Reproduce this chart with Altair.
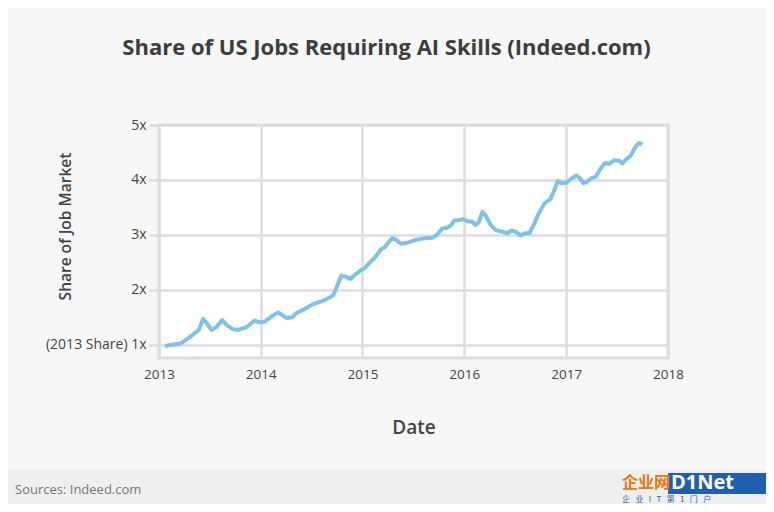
import altair as alt
import pandas as pd

dates = [
    "2013-01-22", "2013-03-22", "2013-04-21", "2013-05-24", "2013-06-08", "2013-06-22",
    "2013-07-08", "2013-07-25", "2013-08-16", "2013-09-01", "2013-09-21", "2013-10-11",
    "2013-11-10", "2013-12-10", "2013-12-28", "2014-01-15", "2014-02-08", "2014-03-04",
    "2014-04-02", "2014-04-24", "2014-05-09", "2014-06-07", "2014-07-07", "2014-08-12",
    "2014-09-05", "2014-09-19", "2014-10-17", "2014-11-01", "2014-11-18", "2014-12-09",
    "2014-12-27", "2015-01-08", "2015-01-26", "2015-02-13", "2015-03-09", "2015-03-21",
    "2015-04-02", "2015-04-17", "2015-05-02", "2015-05-19", "2015-06-12", "2015-07-12",
    "2015-08-11", "2015-09-10", "2015-09-24", "2015-10-15", "2015-10-28", "2015-11-14",
    "2015-11-26", "2015-12-14", "2015-12-28", "2016-01-12", "2016-01-30", "2016-02-11",
    "2016-02-23", "2016-03-06", "2016-03-18", "2016-04-05", "2016-04-22", "2016-05-16",
    "2016-06-03", "2016-06-19", "2016-07-03", "2016-07-21", "2016-08-05", "2016-08-22",
    "2016-09-06", "2016-09-24", "2016-10-16", "2016-11-05", "2016-11-17", "2016-12-02",
    "2016-12-14", "2017-01-02", "2017-01-21", "2017-02-07", "2017-02-19", "2017-03-04",
    "2017-03-18", "2017-03-30", "2017-04-17", "2017-05-05", "2017-05-20", "2017-06-04",
    "2017-06-22", "2017-07-10", "2017-07-21", "2017-08-05", "2017-08-20", "2017-09-07",
    "2017-09-19", "2017-10-01",
]
share = [
    0.98, 1.03, 1.14, 1.27, 1.47, 1.39,
    1.27, 1.32, 1.45, 1.36, 1.29, 1.27,
    1.32, 1.44, 1.41, 1.42, 1.51, 1.59,
    1.49, 1.50, 1.58, 1.65, 1.74, 1.80,
    1.86, 1.91, 2.26, 2.24, 2.20, 2.29,
    2.36, 2.39, 2.49, 2.58, 2.74, 2.77,
    2.85, 2.94, 2.91, 2.84, 2.86, 2.91,
    2.94, 2.95, 3.00, 3.12, 3.12, 3.17,
    3.26, 3.27, 3.29, 3.25, 3.24, 3.18,
    3.24, 3.42, 3.35, 3.18, 3.09, 3.06,
    3.03, 3.08, 3.06, 2.99, 3.03, 3.03,
    3.18, 3.39, 3.58, 3.65, 3.79, 3.98,
    3.94, 3.95, 4.03, 4.08, 4.03, 3.94,
    3.97, 4.03, 4.06, 4.21, 4.31, 4.29,
    4.36, 4.35, 4.30, 4.38, 4.44, 4.61,
    4.67, 4.65,
]
y_ticks = [1, 2, 3, 4, 5]
x_ticks = ["2013-01-01", "2014-01-01", "2015-01-01", "2016-01-01", "2017-01-01", "2018-01-01"]

title_text = "Share of US Jobs Requiring AI Skills (Indeed.com)"
source_text = ["Sources: Indeed.com"]
NB = "\u00a0\u00a0\u00a0"
watermark_small = [NB.join(["企", "业", "I", "T", "第", "1", "门", "户"])]

FONT = "Open Sans"
W, H = 509, 233
PL, PT = 151, 117
TOTAL_W, TOTAL_H = 758, 496

df = pd.DataFrame({"date": dates, "share": share})

line = alt.Chart(df).mark_line(color="#80c1ea", strokeWidth=4, strokeJoin="round").encode(
    x=alt.X(
        "date:T",
        scale=alt.Scale(domain=["2013-01-01", "2018-01-01"]),
        axis=alt.Axis(
            values=x_ticks, format="%Y", title="Date", ticks=False, domain=False,
            labelFlush=False, labelPadding=9, labelFontSize=13.5, labelColor="#444",
            labelFont=FONT,
            titleFontSize=19, titleFontWeight=600, titleColor="#444", titleFont=FONT,
            titleY=69, titleBaseline="middle",
            grid=True, gridColor="#dddddd", gridWidth=2.5,
        ),
    ),
    y=alt.Y(
        "share:Q",
        scale=alt.Scale(domain=[0.76, 5], nice=False, zero=False),
        axis=alt.Axis(
            values=y_ticks,
            labelExpr="datum.value == 1 ? '(2013 Share) 1x' : datum.value + 'x'",
            title="Share of Job Market", domain=False,
            tickSize=10, tickColor="#dddddd", tickWidth=2.5, labelPadding=3,
            labelFontSize=14, labelColor="#444", labelFont=FONT,
            titleFontSize=15.5, titleFontWeight=600, titleColor="#444", titleFont=FONT,
            titleX=-94, titleY=101, titleBaseline="middle", titleAngle=270,
            grid=True, gridColor="#dddddd", gridWidth=2.5,
        ),
    ),
)

footer = alt.Chart(pd.DataFrame({"k": [0]})).mark_rect(color="#efefef").encode(
    x=alt.value(-PL), x2=alt.value(TOTAL_W - PL), y=alt.value(345), y2=alt.value(400)
)

source = alt.Chart(pd.DataFrame({"t": source_text})).mark_text(
    align="left", baseline="middle", fontSize=13, color="#777", font=FONT
).encode(text="t:N", x=alt.value(-144), y=alt.value(365))

wm_box = alt.Chart(pd.DataFrame({"k": [0]})).mark_rect(color="#1f5fb0").encode(
    x=alt.value(509), x2=alt.value(TOTAL_W - PL), y=alt.value(348), y2=alt.value(369)
)

wm1 = alt.Chart(pd.DataFrame({"t": ["企业网"]})).mark_text(
    align="left", baseline="middle", fontSize=16, fontWeight="bold", color="#e8780e",
    font="Noto Sans CJK SC"
).encode(text="t:N", x=alt.value(463), y=alt.value(358))

wm2 = alt.Chart(pd.DataFrame({"t": ["D1Net"]})).mark_text(
    align="left", baseline="middle", fontSize=20, fontWeight="bold", color="white",
    font=FONT
).encode(text="t:N", x=alt.value(512), y=alt.value(358))

wm3 = alt.Chart(pd.DataFrame({"t": watermark_small})).mark_text(
    align="left", baseline="middle", fontSize=8, color="#1f5fb0",
    font="Noto Sans CJK SC"
).encode(text="t:N", x=alt.value(463), y=alt.value(375))

chart = alt.layer(footer, line, source, wm_box, wm1, wm2, wm3).properties(
    width=W,
    height=H,
    autosize=alt.AutoSizeParams(type="none"),
    padding={"left": PL, "top": PT, "right": TOTAL_W - PL - W, "bottom": TOTAL_H - PT - H},
    background="#f7f7f7",
    title=alt.TitleParams(
        title_text, fontSize=22, fontWeight="bold", color="#3d3d3d", font=FONT,
        anchor="middle", dx=-27, offset=58,
    ),
).configure_view(fill="white", stroke="#dddddd", strokeWidth=3)

chart.save("out.html", embed_options={"renderer": "svg", "actions": False})
